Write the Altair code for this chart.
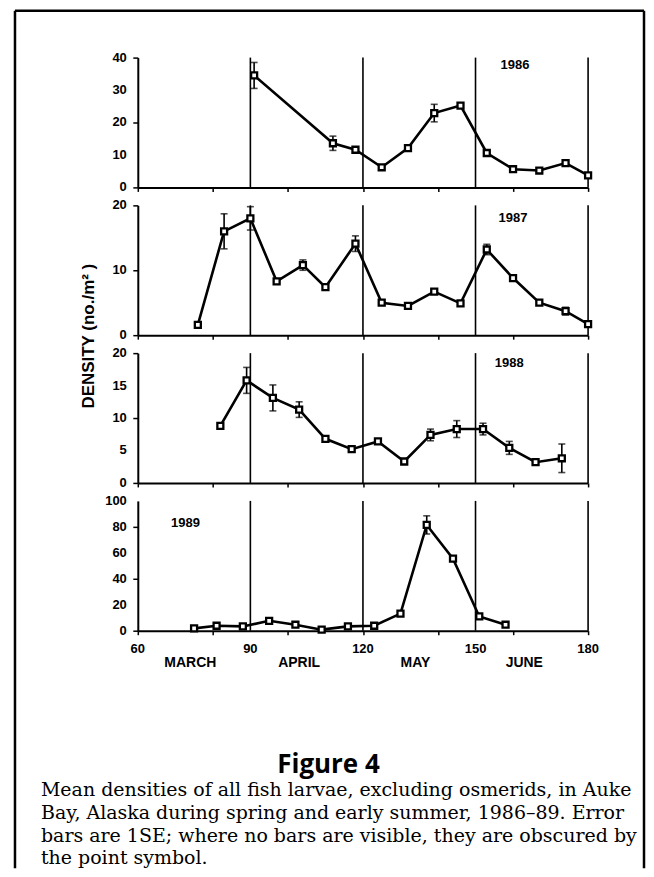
import altair as alt
import pandas as pd

# ---------------- data ----------------
days86 = [91, 112, 118, 125, 132, 139, 146, 153, 160, 167, 174, 180]
vals86 = [34.5, 13.6, 11.6, 6.2, 12.1, 22.9, 25.2, 10.6, 5.6, 5.2, 7.5, 3.7]
se86 = [4.0, 2.2, 0, 0, 0, 2.7, 0, 0, 0, 0, 0, 0]

days87 = [76, 83, 90, 97, 104, 110, 118, 125, 132, 139, 146, 153, 160, 167, 174, 180]
vals87 = [1.6, 16.0, 18.0, 8.3, 10.8, 7.4, 14.1, 5.0, 4.5, 6.7, 4.9, 13.2, 8.8, 5.0, 3.7, 1.7]
se87 = [0, 2.7, 1.8, 0, 0.8, 0, 1.2, 0, 0, 0, 0, 0.8, 0, 0, 0.6, 0]

days88 = [82, 89, 96, 103, 110, 117, 124, 131, 138, 145, 152, 159, 166, 173]
vals88 = [8.8, 15.8, 13.1, 11.3, 6.8, 5.2, 6.4, 3.3, 7.4, 8.3, 8.3, 5.4, 3.2, 3.8]
se88 = [0, 2.0, 2.0, 1.2, 0, 0, 0, 0, 0.9, 1.3, 0.9, 1.0, 0, 2.2]

days89 = [75, 81, 88, 95, 102, 109, 116, 123, 130, 137, 144, 151, 158]
vals89 = [1.8, 3.8, 3.3, 7.6, 4.6, 0.8, 3.3, 3.8, 13.2, 81.5, 55.5, 11.0, 4.6]
se89 = [0, 0, 0, 0, 0, 0, 0, 0, 0, 7.0, 0, 0, 0]

month_starts = [90, 120, 150, 180]
month_names = ["MARCH", "APRIL", "MAY", "JUNE"]
month_label_days = [74, 103, 134, 163]
x_ticks = list(range(60, 181, 10))
x_labels = [60, 90, 120, 150, 180]

yticks86 = list(range(0, 41, 5))
ylabels86 = [0, 10, 20, 30, 40]
yticks87 = [0, 5, 10, 15, 20]
ylabels87 = [0, 10, 20]
yticks88 = [0, 5, 10, 15, 20]
ylabels88 = [0, 5, 10, 15, 20]
yticks89 = [0, 20, 40, 60, 80, 100]
ylabels89 = [0, 20, 40, 60, 80, 100]

years = ["1986", "1987", "1988", "1989"]

fig_title = "Figure 4"
caption_lines = [
    "Mean densities of all fish larvae, excluding osmerids, in Auke",
    "Bay, Alaska during spring and early summer, 1986\u201389. Error",
    "bars are 1SE; where no bars are visible, they are obscured by",
    "the point symbol.",
]
y_title = "DENSITY  (no./m\u00b2 )"

W = 451
H = 130
LAB_FONT = "Liberation Sans"


def panel(days, vals, se, ydom, yticks, ylabels, year, ypos, bottom=False):
    df = pd.DataFrame({"day": days, "val": vals, "se": se})
    df["lo"] = df["val"] - df["se"]
    df["hi"] = df["val"] + df["se"]
    eb = df[df["se"] > 0]

    xaxis = alt.Axis(values=x_ticks, title=None, tickSize=4, labels=False)
    yaxis = alt.Axis(values=yticks, title=None, tickSize=5, labels=False)
    xs = alt.Scale(domain=[60, 180], nice=False, zero=False)
    ys = alt.Scale(domain=ydom, nice=False)
    X = alt.X("day:Q", scale=xs, axis=xaxis)
    Xn = alt.X("day:Q", scale=xs)
    Yv = alt.Y("val:Q", scale=ys, axis=yaxis)

    line = alt.Chart(df).mark_line(color="black", strokeWidth=2.6).encode(
        x=X, y=Yv
    )
    grid = alt.Chart(pd.DataFrame({"day": month_starts})).mark_rule(
        color="black", strokeWidth=1.6
    ).encode(x=Xn)
    bars = alt.Chart(eb).mark_rule(color="black", strokeWidth=1.6).encode(
        x=Xn, y=alt.Y("lo:Q", scale=ys), y2="hi:Q"
    )
    cap_lo = alt.Chart(eb).mark_tick(
        color="black", orient="horizontal", size=7, thickness=1.6
    ).encode(x=Xn, y=alt.Y("lo:Q", scale=ys))
    cap_hi = alt.Chart(eb).mark_tick(
        color="black", orient="horizontal", size=7, thickness=1.6
    ).encode(x=Xn, y=alt.Y("hi:Q", scale=ys))
    pts = alt.Chart(df).mark_square(
        size=36, filled=True, fill="white", stroke="black", strokeWidth=2.3,
        opacity=1
    ).encode(x=Xn, y=alt.Y("val:Q", scale=ys))
    lab = alt.Chart(pd.DataFrame({"t": [year]})).mark_text(
        font=LAB_FONT, fontWeight="bold", fontSize=13, color="black"
    ).encode(x=alt.datum(ypos[0], scale=xs), y=alt.datum(ypos[1], scale=ys),
             text="t:N")
    ylab = alt.Chart(pd.DataFrame({"v": ylabels})).mark_text(
        font=LAB_FONT, fontWeight="bold", fontSize=13, color="black",
        align="right", baseline="middle", dx=-11
    ).encode(x=alt.value(0), y=alt.Y("v:Q", scale=ys), text="v:Q")
    layers = [line, grid, bars, cap_lo, cap_hi, pts, lab, ylab]
    if bottom:
        xlab = alt.Chart(pd.DataFrame({"v": x_labels})).mark_text(
            font=LAB_FONT, fontWeight="bold", fontSize=13, color="black",
            align="center", baseline="top", dy=12
        ).encode(x=alt.X("v:Q", scale=xs), y=alt.value(H), text="v:Q")
        layers.append(xlab)
    return layers, Xn, ys


one = pd.DataFrame({"a": [0]})

# panel 1 (1986) + frame
l1, X1, ys1 = panel(days86, vals86, se86, [0, 40], yticks86, ylabels86,
                    years[0], (160.5, 37.8))
FR_L, FR_R, FR_T, FR_B = -123, 507, -47, 812
frame = [
    alt.Chart(one).mark_rule(color="black", strokeWidth=2.5).encode(
        x=alt.value(FR_L), y=alt.value(FR_T), y2=alt.value(FR_B)),
    alt.Chart(one).mark_rule(color="black", strokeWidth=2.5).encode(
        x=alt.value(FR_R), y=alt.value(FR_T), y2=alt.value(FR_B)),
    alt.Chart(one).mark_rule(color="black", strokeWidth=2.5).encode(
        x=alt.value(FR_L), x2=alt.value(FR_R), y=alt.value(FR_T)),
]
p1 = alt.layer(*(l1 + frame)).properties(width=W, height=H)

# panel 2 (1987) + y title
l2, X2, ys2 = panel(days87, vals87, se87, [0, 20], yticks87, ylabels87,
                    years[1], (160, 18))
ytitle = alt.Chart(one).mark_text(
    font=LAB_FONT, fontWeight="bold", fontSize=17, angle=270, color="black"
).encode(x=alt.value(-49), y=alt.value(131), text=alt.value(y_title))
p2 = alt.layer(*(l2 + [ytitle])).properties(width=W, height=H)

# panel 3 (1988)
l3, X3, ys3 = panel(days88, vals88, se88, [0, 20], yticks88, ylabels88,
                    years[2], (159, 18.5))
p3 = alt.layer(*l3).properties(width=W, height=H)

# panel 4 (1989) + month labels + caption
l4, X4, ys4 = panel(days89, vals89, se89, [0, 100], yticks89, ylabels89,
                    years[3], (72.7, 83), bottom=True)
months = alt.Chart(pd.DataFrame({"day": month_label_days, "m": month_names})).mark_text(
    font=LAB_FONT, fontWeight="bold", fontSize=14, color="black", baseline="middle"
).encode(x=X4, y=alt.value(162), text="m:N")
figt = alt.Chart(one).mark_text(
    font="Open Sans", fontWeight="bold", fontSize=26, color="black", align="center",
    baseline="middle"
).encode(x=alt.value(191), y=alt.value(265), text=alt.value(fig_title))
cap = alt.Chart(one).mark_text(
    font="DejaVu Serif", fontSize=19, color="black", align="left",
    baseline="alphabetic", lineHeight=22.6
).encode(x=alt.value(-97), y=alt.value(296), text=alt.value(caption_lines))
p4 = alt.layer(*(l4 + [months, figt, cap])).properties(width=W, height=H)

chart = alt.vconcat(p1, p2, p3, p4, spacing=18, bounds="flush").properties(
    padding={"left": 5, "top": 0, "right": 0, "bottom": 0},
    background="white",
).configure_view(stroke=None).configure_axis(
    domainColor="black", domainWidth=2, tickColor="black", tickWidth=1.5,
    grid=False,
)

chart.save("out.html", embed_options={"renderer": "svg", "actions": False})
